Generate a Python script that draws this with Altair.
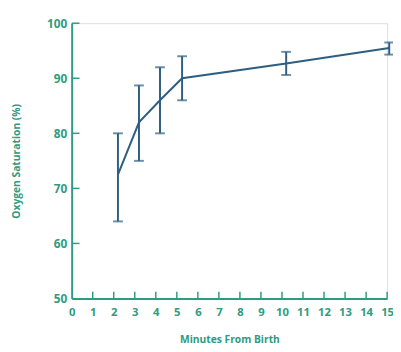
import altair as alt
import pandas as pd

minutes = [2.2, 3.2, 4.2, 5.25, 10.2, 15.1]
sat_mean = [72.5, 82, 86, 90, 92.7, 95.5]
sat_low = [64, 75, 80, 86, 90.6, 94.3]
sat_high = [80, 88.7, 92, 94, 94.8, 96.5]

x_ticks = list(range(0, 16))
y_ticks = [50, 60, 70, 80, 90, 100]

df = pd.DataFrame({"m": minutes, "mean": sat_mean, "lo": sat_low, "hi": sat_high})
xt = pd.DataFrame({"t": x_ticks[1:]})
yt = pd.DataFrame({"t": y_ticks[1:]})

TEAL = "#2f9b80"
BLUE = "#2e5e80"
W, H = 322, 281
FONT = "Open Sans"

xs = alt.Scale(domain=[0, 15], nice=False, zero=False)
ys = alt.Scale(domain=[50, 100], nice=False, zero=False)

xaxis = alt.Axis(values=x_ticks, title="Minutes From Birth", ticks=False, grid=False,
                 labelFont=FONT, labelFontWeight="bold", labelFontSize=11.5, labelColor=TEAL,
                 labelPadding=8, titleFont=FONT, titleFontWeight="bold", titleFontSize=10.5,
                 titleColor=TEAL, titlePadding=17, domainColor=TEAL, domainWidth=2,
                 labelFlush=False, labelOverlap=False)
yaxis = alt.Axis(values=y_ticks, title="Oxygen Saturation (%)", ticks=False, grid=False,
                 labelFont=FONT, labelFontWeight="bold", labelFontSize=12, labelColor=TEAL,
                 labelPadding=5, titleFont=FONT, titleFontWeight="bold", titleFontSize=10.5,
                 titleColor=TEAL, titlePadding=26, domainColor=TEAL, domainWidth=2,
                 labelFlush=False, labelOverlap=False)

base = alt.Chart(df)

line = base.mark_line(color=BLUE, strokeWidth=2, clip=False).encode(
    x=alt.X("m:Q", scale=xs, axis=xaxis),
    y=alt.Y("mean:Q", scale=ys, axis=yaxis),
)
bars = base.mark_rule(color=BLUE, strokeWidth=2, clip=False).encode(
    x=alt.X("m:Q", scale=xs, axis=xaxis), y=alt.Y("lo:Q", scale=ys, axis=yaxis), y2="hi:Q"
)
cap_lo = base.mark_tick(color=BLUE, orient="horizontal", size=10, thickness=2, clip=False).encode(
    x=alt.X("m:Q", scale=xs, axis=xaxis), y=alt.Y("lo:Q", scale=ys, axis=yaxis)
)
cap_hi = base.mark_tick(color=BLUE, orient="horizontal", size=10, thickness=2, clip=False).encode(
    x=alt.X("m:Q", scale=xs, axis=xaxis), y=alt.Y("hi:Q", scale=ys, axis=yaxis)
)
xtick = alt.Chart(xt).mark_rule(color=TEAL, strokeWidth=1.5).encode(
    x=alt.X("t:Q", scale=xs, axis=xaxis), y=alt.value(H), y2=alt.value(H - 7)
)
ytick = alt.Chart(yt).mark_rule(color=TEAL, strokeWidth=1.5).encode(
    y=alt.Y("t:Q", scale=ys, axis=yaxis), x=alt.value(0), x2=alt.value(8)
)

chart = alt.layer(line, xtick, ytick, bars, cap_lo, cap_hi).properties(
    width=W, height=H,
    autosize=alt.AutoSizeParams(type="none"),
    padding={"left": 65, "top": 12, "right": 6, "bottom": 47},
).configure_view(stroke=None).configure(background="white")

chart.save("out.html", embed_options={"renderer": "svg", "actions": False})
